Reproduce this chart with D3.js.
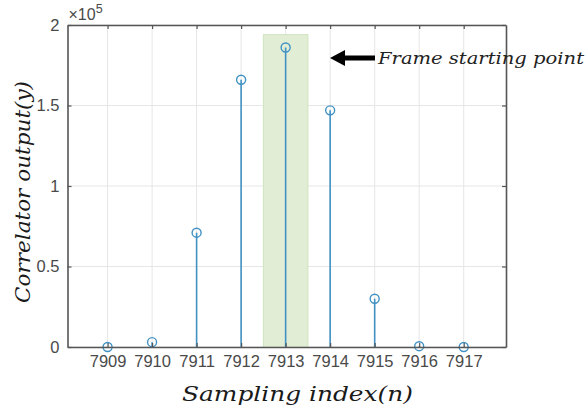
<!DOCTYPE html>
<html>
<head>
<meta charset="utf-8">
<script src="https://d3js.org/d3.v7.min.js"></script>
<style>
  body { margin: 0; background: #fff; }
  svg { display: block; }
</style>
</head>
<body>
<div id="wrapper"></div>
<script>
// data (y in units of 1e5)
var samples = [7909, 7910, 7911, 7912, 7913, 7914, 7915, 7916, 7917];
var corr = [0, 0.03, 0.71, 1.66, 1.86, 1.47, 0.30, 0.005, 0];
var yTicks = [0, 0.5, 1, 1.5, 2];
var yTickLabels = ["0", "0.5", "1", "1.5", "2"];
var frameIdx = 7913;
var frameTop = 1.94;
var noteText = "Frame starting point";

var W = 587, H = 407;
// plot box (don't call it "top": window.top is read-only)
var padL = 67.5, padR = 506, padT = 25, padB = 347;

var svg = d3.select("#wrapper").append("svg")
  .attr("width", W).attr("height", H);

var x = d3.scaleLinear().domain([7908.1, 7917.95]).range([padL, padR]);
var y = d3.scaleLinear().domain([0, 2]).range([padB, padT]);

// grid
svg.append("g").selectAll("line").data(samples).enter().append("line")
  .attr("x1", d => x(d)).attr("x2", d => x(d))
  .attr("y1", padT).attr("y2", padB)
  .attr("stroke", "#e6e6e6").attr("stroke-width", 1);
svg.append("g").selectAll("line").data(yTicks).enter().append("line")
  .attr("x1", padL).attr("x2", padR)
  .attr("y1", d => y(d)).attr("y2", d => y(d))
  .attr("stroke", "#e6e6e6").attr("stroke-width", 1);

// highlighted frame start
svg.append("rect")
  .attr("x", x(frameIdx - 0.5))
  .attr("y", y(frameTop))
  .attr("width", x(frameIdx + 0.5) - x(frameIdx - 0.5))
  .attr("height", y(0) - y(frameTop))
  .attr("fill", "#e1eed5")
  .attr("stroke", "#cfe3c0")
  .attr("stroke-width", 1);

// stems
var stemColor = "#4191c4";
svg.append("g").selectAll("line").data(samples).enter().append("line")
  .attr("x1", d => x(d)).attr("x2", d => x(d))
  .attr("y1", y(0)).attr("y2", (d, i) => y(corr[i]))
  .attr("stroke", stemColor).attr("stroke-width", 1.6);
svg.append("g").selectAll("circle").data(samples).enter().append("circle")
  .attr("cx", d => x(d)).attr("cy", (d, i) => y(corr[i]))
  .attr("r", 4.5)
  .attr("fill", "none").attr("stroke", stemColor).attr("stroke-width", 1.4);

// axes (box with inner ticks)
var axisColor = "#555";
var xAxis = d3.axisBottom(x).tickValues(samples).tickSizeInner(-4).tickSizeOuter(0).tickPadding(8).tickFormat(d3.format("d"));
var xAxisTop = d3.axisTop(x).tickValues(samples).tickSizeInner(-4).tickSizeOuter(0).tickFormat("");
var yAxis = d3.axisLeft(y).tickValues(yTicks).tickSizeInner(-4).tickSizeOuter(0).tickPadding(8)
  .tickFormat((d, i) => yTickLabels[i]);
var yAxisRight = d3.axisRight(y).tickValues(yTicks).tickSizeInner(-4).tickSizeOuter(0).tickFormat("");

function styleAxis(g) {
  g.select(".domain").attr("stroke", axisColor).attr("stroke-width", 1.6);
  g.selectAll(".tick line").attr("stroke", axisColor).attr("stroke-width", 1.2);
  g.selectAll(".tick text").attr("fill", "#4a4a4a")
    .style("font-family", "Liberation Sans, Arial, sans-serif").style("font-size", "16.5px");
}
svg.append("g").attr("transform", "translate(0," + padB + ")").call(xAxis).call(styleAxis);
svg.append("g").attr("transform", "translate(0," + padT + ")").call(xAxisTop).call(styleAxis);
svg.append("g").attr("transform", "translate(" + padL + ",0)").call(yAxis).call(styleAxis);
svg.append("g").attr("transform", "translate(" + padR + ",0)").call(yAxisRight).call(styleAxis);

// exponent
var expo = svg.append("text").attr("x", padL + 1).attr("y", 20)
  .attr("fill", "#4a4a4a").style("font-family", "Liberation Sans, Arial, sans-serif").style("font-size", "16px");
expo.append("tspan").text("\u00d710");
expo.append("tspan").attr("dy", -7).style("font-size", "12.5px").text("5");

// axis titles
var titleFont = "DejaVu Serif, serif";
svg.append("text")
  .attr("x", 182).attr("y", 401)
  .attr("textLength", 231).attr("lengthAdjust", "spacingAndGlyphs")
  .style("font-family", titleFont).style("font-style", "italic").style("font-size", "21px")
  .attr("fill", "#1a1a1a")
  .text("Sampling index(n)");
svg.append("text")
  .attr("transform", "translate(30,303) rotate(-90)")
  .attr("textLength", 222).attr("lengthAdjust", "spacingAndGlyphs")
  .style("font-family", titleFont).style("font-style", "italic").style("font-size", "20px")
  .attr("fill", "#1a1a1a")
  .text("Correlator output(y)");

// annotation arrow
var ay = 58;
svg.append("path")
  .attr("d", "M330," + ay + " L345," + (ay - 8) + " L345," + (ay - 2.5) + " L375," + (ay - 2.5) +
       " L375," + (ay + 2.5) + " L345," + (ay + 2.5) + " L345," + (ay + 8) + " Z")
  .attr("fill", "#000");
svg.append("text")
  .attr("x", 378).attr("y", 64)
  .attr("textLength", 206).attr("lengthAdjust", "spacingAndGlyphs")
  .style("font-family", titleFont).style("font-style", "italic").style("font-size", "16px")
  .attr("fill", "#222")
  .text(noteText);
</script>
</body>
</html>
